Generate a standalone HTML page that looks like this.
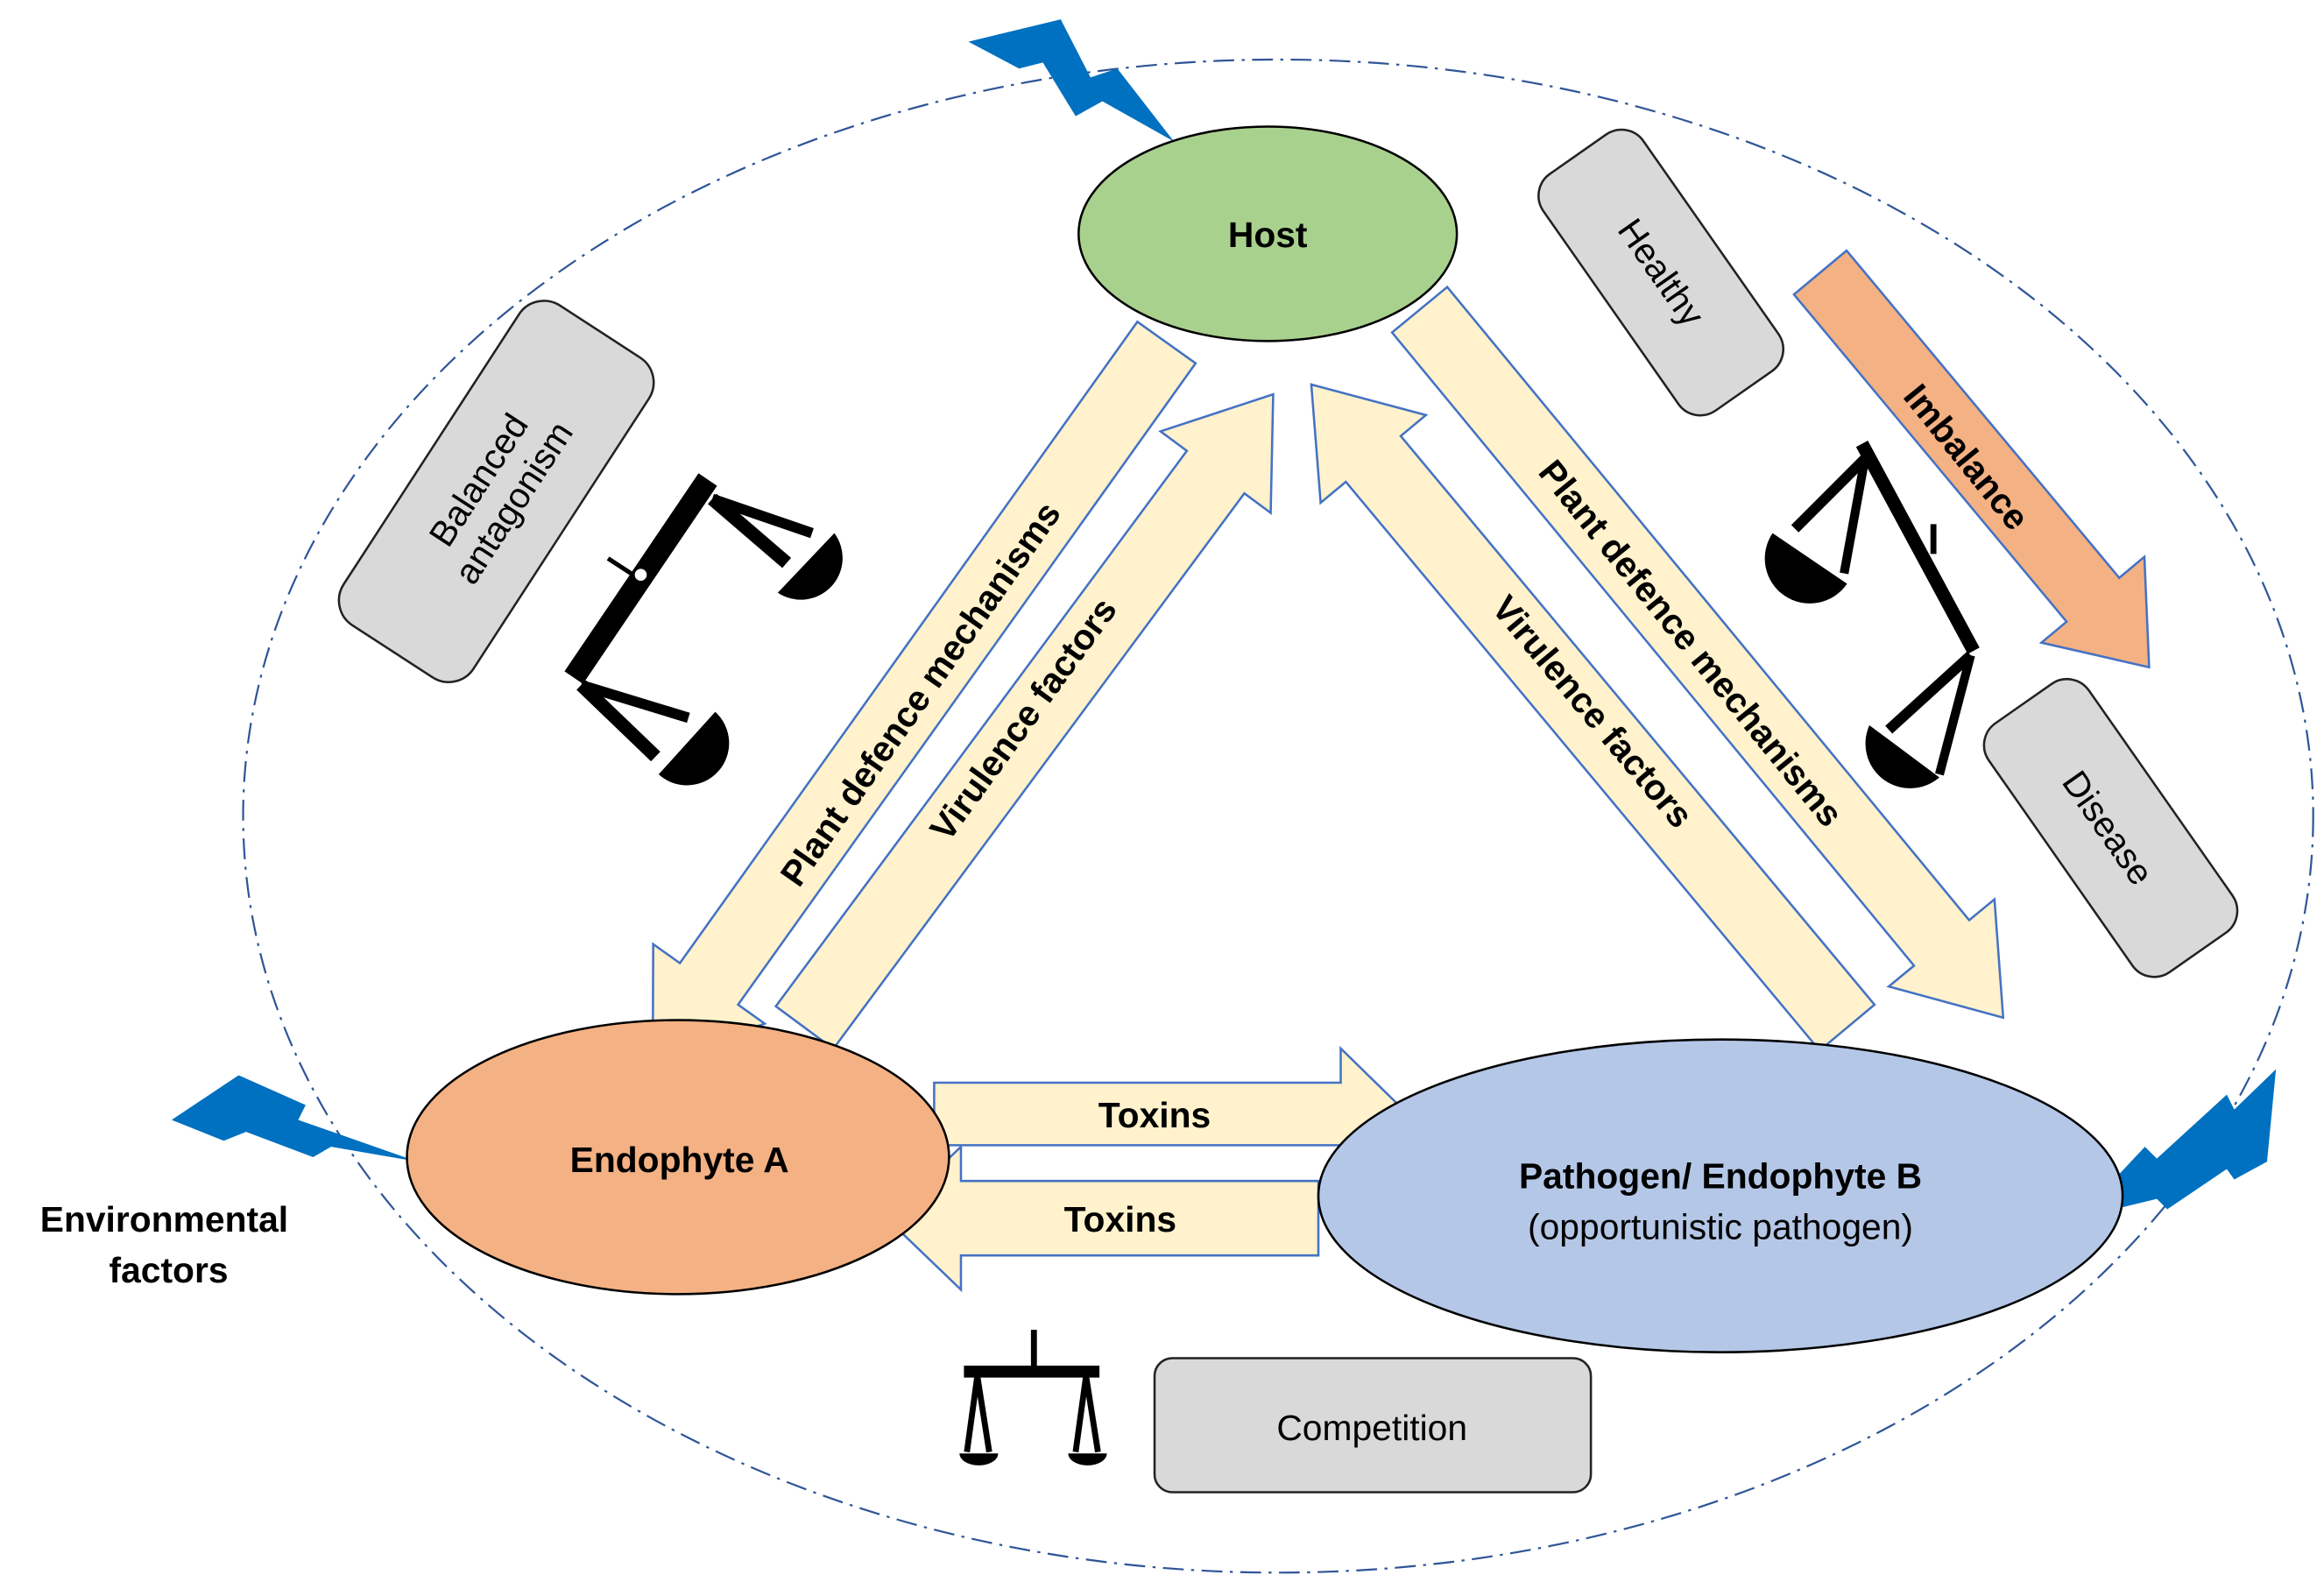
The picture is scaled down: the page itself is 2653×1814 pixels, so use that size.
<!DOCTYPE html>
<html><head><meta charset="utf-8"><style>
html,body{margin:0;padding:0;background:#fff}
svg{display:block}
text{font-family:"Liberation Sans",sans-serif}
</style></head><body>
<svg width="2653" height="1814" viewBox="0 0 1560 1067" xmlns="http://www.w3.org/2000/svg">
<ellipse cx="858" cy="548" rx="695" ry="508" fill="none" stroke="#2f5597" stroke-width="1.3" stroke-dasharray="14,5,2,5"/>

<polygon points="650,28 712,13 732,52 750,46 788,95 740,68 722,78 700,42 684,46" fill="#0070c0"/>
<polygon points="115,752 160,722 205,742 200,752 280,780 222,770 210,777 165,760 150,766" fill="#0070c0"/>
<polygon points="1395,818 1440,770 1448,778 1495,735 1500,745 1528,718 1522,780 1500,792 1495,785 1455,812 1448,805" fill="#0070c0"/>

<g fill="#fff2cc" stroke="#4472c4" stroke-width="1.5">
<polygon transform="translate(783,230) rotate(125.5)" points="0,-24 529,-24 529,-46 594,0 529,46 529,24 0,24"/>
<polygon transform="translate(540,690) rotate(-53.5)" points="0,-24 464,-24 464,-46 529,0 464,46 464,24 0,24"/>
<polygon transform="translate(953,208) rotate(50.5)" points="0,-24 551,-24 551,-46 616,0 551,46 551,24 0,24"/>
<polygon transform="translate(1240,690) rotate(230.2)" points="0,-24 497,-24 497,-46 562,0 497,46 497,24 0,24"/>
<polygon transform="translate(627,748) rotate(0)" points="0,-21 273,-21 273,-44 318,0 273,44 273,21 0,21"/>
<polygon transform="translate(885,818) rotate(180)" points="0,-25 240,-25 240,-48 290,0 240,48 240,25 0,25"/>
</g>
<polygon transform="translate(1222,183) rotate(50.2)" fill="#f4b183" stroke="#4472c4" stroke-width="1.5" points="0,-23 286,-23 286,-45 345,0 286,45 286,23 0,23"/>

<ellipse cx="851" cy="157" rx="127" ry="72" fill="#a9d18e" stroke="#000" stroke-width="1.5"/>
<ellipse cx="455" cy="777" rx="182" ry="92" fill="#f4b183" stroke="#000" stroke-width="1.5"/>
<ellipse cx="1155" cy="803" rx="270" ry="105" fill="#b4c7e7" stroke="#000" stroke-width="1.5"/>

<g fill="#d9d9d9" stroke="#222" stroke-width="1.5">
<rect transform="translate(333,330) rotate(-57)" x="-128" y="-52" width="256" height="104" rx="20"/>
<rect transform="translate(1115,183) rotate(55)" x="-97" y="-41" width="194" height="82" rx="18"/>
<rect transform="translate(1417,556) rotate(55)" x="-102" y="-41" width="204" height="82" rx="18"/>
<rect x="775" y="912" width="293" height="90" rx="12"/>
</g>

<g font-size="24" fill="#000">
<text x="851" y="166" text-anchor="middle" font-weight="bold">Host</text>
<text x="456" y="787" text-anchor="middle" font-weight="bold">Endophyte A</text>
<text x="1155" y="798" text-anchor="middle" font-weight="bold">Pathogen/ Endophyte B</text>
<text x="1155" y="832" text-anchor="middle">(opportunistic pathogen)</text>
<text x="775" y="757" text-anchor="middle" font-weight="bold">Toxins</text>
<text x="752" y="827" text-anchor="middle" font-weight="bold">Toxins</text>
<text x="110" y="827" text-anchor="middle" font-weight="bold">Environmental</text>
<text x="113" y="861" text-anchor="middle" font-weight="bold">factors</text>
<text x="921" y="967" text-anchor="middle">Competition</text>
<text transform="translate(618,466) rotate(-55)" text-anchor="middle" dy="8" font-weight="bold">Plant defence mechanisms</text>
<text transform="translate(687,483) rotate(-54)" text-anchor="middle" dy="8" font-weight="bold">Virulence factors</text>
<text transform="translate(1135,432) rotate(51)" text-anchor="middle" dy="8" font-weight="bold">Plant defence mechanisms</text>
<text transform="translate(1069,478) rotate(50)" text-anchor="middle" dy="8" font-weight="bold">Virulence factors</text>
<text transform="translate(1320,307) rotate(51)" text-anchor="middle" dy="8" font-weight="bold">Imbalance</text>
<text transform="translate(1115,183) rotate(55)" text-anchor="middle" dy="8">Healthy</text>
<text transform="translate(1415,556) rotate(55)" text-anchor="middle" dy="8">Disease</text>
<text transform="translate(333,330) rotate(-57)" text-anchor="middle"><tspan x="0" y="-6">Balanced</tspan><tspan x="0" y="22">antagonism</tspan></text>
</g>

<g stroke="#000" fill="none">
<line x1="475" y1="322" x2="385" y2="455" stroke-width="15"/>
<line x1="408" y1="375" x2="428" y2="388" stroke-width="3"/>
<line x1="478" y1="335" x2="528" y2="378" stroke-width="9"/>
<line x1="478" y1="335" x2="545" y2="358" stroke-width="7"/>
<line x1="390" y1="460" x2="440" y2="508" stroke-width="9"/>
<line x1="390" y1="460" x2="462" y2="482" stroke-width="7"/>
</g>
<circle cx="430" cy="386" r="5" fill="#fff" stroke="#000" stroke-width="2"/>
<path d="M522,398 L560,358 A28,28 0 0 1 522,398 Z" fill="#000"/>
<path d="M442,520 L480,478 A28,28 0 0 1 442,520 Z" fill="#000"/>

<g stroke="#000" fill="none">
<line x1="1250" y1="298" x2="1325" y2="437" stroke-width="9"/>
<line x1="1252" y1="308" x2="1205" y2="355" stroke-width="7"/>
<line x1="1252" y1="308" x2="1238" y2="385" stroke-width="6"/>
<line x1="1298" y1="352" x2="1298" y2="372" stroke-width="4"/>
<line x1="1323" y1="440" x2="1268" y2="490" stroke-width="7"/>
<line x1="1323" y1="440" x2="1302" y2="520" stroke-width="6"/>
</g>
<path d="M1190,358 L1240,392 A30,30 0 0 1 1190,358 Z" fill="#000"/>
<path d="M1255,487 L1302,522 A30,30 0 0 1 1255,487 Z" fill="#000"/>

<g stroke="#000" fill="none">
<line x1="694" y1="893" x2="694" y2="918" stroke-width="4"/>
<line x1="647" y1="921" x2="738" y2="921" stroke-width="8"/>
<line x1="656" y1="924" x2="649" y2="975" stroke-width="4"/>
<line x1="656" y1="924" x2="664" y2="975" stroke-width="4"/>
<line x1="729" y1="924" x2="722" y2="975" stroke-width="4"/>
<line x1="729" y1="924" x2="737" y2="975" stroke-width="4"/>
</g>
<path d="M644,976 L670,976 A13,8 0 0 1 644,976 Z" fill="#000"/>
<path d="M717,976 L743,976 A13,8 0 0 1 717,976 Z" fill="#000"/>
</svg>
</body></html>
